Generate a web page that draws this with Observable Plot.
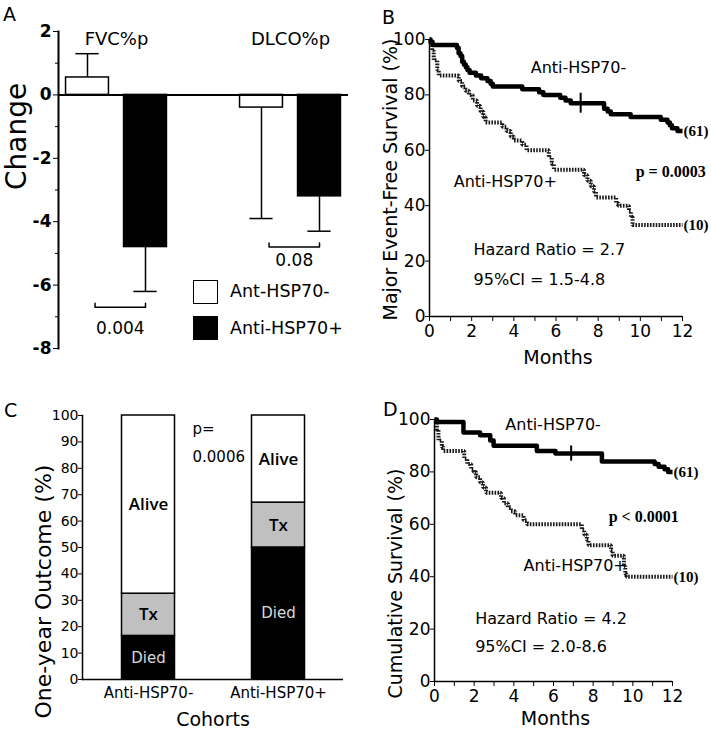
<!DOCTYPE html>
<html><head><meta charset="utf-8">
<script src="https://cdn.jsdelivr.net/npm/d3@7"></script>
<script src="https://cdn.jsdelivr.net/npm/@observablehq/plot@0.6"></script>
<style>
html,body{margin:0;padding:0;background:#fff;}
#fig{position:relative;width:711px;height:730px;overflow:hidden;font-family:"DejaVu Sans",sans-serif;color:#000;}
.panel{position:absolute;}
.letter{position:absolute;font-size:19px;line-height:19px;}
.legA{position:absolute;font-size:17.5px;line-height:17px;white-space:nowrap;}
.box{position:absolute;width:23px;height:22px;border:1.5px solid #000;}
</style></head><body><div id="fig"></div>
<script>
// ---------- Panel A data ----------
const measuresA = ["FVC%p", "DLCO%p"];
const groupsA = ["Ant-HSP70-", "Anti-HSP70+"];
const meanChangeA = [[0.55, -4.8], [-0.4, -3.2]];
const errorEndA = [[1.3, -6.2], [-3.9, -4.3]];
const pValuesA = ["0.004", "0.08"];
const yTicksA = [2, 0, -2, -4, -6, -8];
const yMinorA = [1, -1, -3, -5, -7];

// ---------- Panel B data (Kaplan-Meier, months, %) ----------
const kmB_neg = [[0,100],[0.05,99],[0.15,98],[1.3,97],[1.38,95],[1.47,94],[1.55,92],[1.63,91],[1.72,90],[1.8,89],[1.9,88],[2.2,87],[2.45,86],[2.75,85],[2.9,84],[3.0,83],[4.4,82],[5.2,81],[5.4,80],[6.2,79],[6.45,78],[6.7,77],[8.28,75],[8.45,74],[8.6,73],[9.54,72],[10.97,71],[11.29,70],[11.4,69],[11.5,68],[11.76,67],[12,67]];
const kmB_pos = [[0,100],[0.13,96],[0.2,92.5],[0.37,89],[0.44,87],[1.39,85],[1.55,83],[1.7,81.5],[1.87,80],[2.05,78],[2.26,76],[2.42,74],[2.55,72],[2.66,70],[3.45,68.5],[3.65,67],[3.85,65],[4.0,63.5],[4.4,62],[4.6,60],[5.66,57.5],[5.8,55],[5.9,53],[7.33,51],[7.49,49],[7.65,47],[7.8,45],[7.9,43],[8.85,41],[8.95,40],[9.46,38],[9.55,36],[9.63,33],[12,33]];
const censorB = [7.17, 77];
const atRiskB = ["(61)", "(10)"];
const groupLabelsKM = ["Anti-HSP70-", "Anti-HSP70+"];
const hazardB = ["Hazard Ratio = 2.7", "95%CI = 1.5-4.8"];
const pB = "p = 0.0003";

// ---------- Panel C data ----------
const cohorts = ["Anti-HSP70-", "Anti-HSP70+"];
const outcomes = ["Died", "Tx", "Alive"];
const outcomePct = [[16.5, 16, 67.5], [50, 17, 33]];
const outcomeFill = {Died: "#000", Tx: "#c0c0c0", Alive: "#fff"};
const pC = ["p=", "0.0006"];

// ---------- Panel D data ----------
const kmD_neg = [[0,100],[0.12,99],[1.46,95],[2.3,94],[2.81,92],[2.98,90],[5.16,88],[6.1,87],[8.44,84],[11.1,83],[11.3,82],[11.6,81],[11.78,80],[12,80]];
const kmD_pos = [[0,100],[0.12,96],[0.2,92],[0.37,89.5],[0.44,88],[1.5,85],[1.65,83],[1.85,81],[1.97,80],[2.1,78],[2.3,76],[2.45,74],[2.6,72],[3.35,70],[3.5,68],[3.7,66.5],[3.85,65],[4.07,63.5],[4.49,61.5],[4.66,60],[7.43,58],[7.55,56],[7.68,54],[7.77,52],[8.9,50],[8.98,48],[9.55,44],[9.62,41],[9.68,40],[12,40]];
const censorD = [6.89, 87];
const atRiskD = ["(61)", "(10)"];
const hazardD = ["Hazard Ratio = 4.2", "95%CI = 2.0-8.6"];
const pD = "p < 0.0001";

const monthTicks = [0, 2, 4, 6, 8, 10, 12];
const monthMinor = [1, 3, 5, 7, 9, 11];
const pctTicks = [0, 20, 40, 60, 80, 100];

// ---------- helpers ----------
const fig = document.getElementById("fig");
const FONT = "DejaVu Sans, sans-serif";
const SERIF = "Liberation Serif, serif";
const baseStyle = {fontFamily: FONT, fontSize: "16px", overflow: "visible", background: "transparent", color: "#000"};
function place(node, left, top) {
  const w = document.createElement("div");
  w.className = "panel"; w.style.left = left + "px"; w.style.top = top + "px";
  w.appendChild(node); fig.appendChild(w);
}
function addDiv(cls, text, left, top, extra) {
  const d = document.createElement("div");
  d.className = cls; if (text) d.textContent = text;
  d.style.left = left + "px"; d.style.top = top + "px";
  if (extra) Object.assign(d.style, extra);
  fig.appendChild(d);
}

// ---------- Panel A ----------
const tableA = [];
measuresA.forEach((m, i) => groupsA.forEach((g, j) => tableA.push({
  measure: m, group: g, gi: j, slot: i * 3 + j, value: meanChangeA[i][j], end: errorEndA[i][j]
})));
const bracketA = [];
const pLabA = [];
measuresA.forEach((m, i) => {
  const rows = tableA.filter(d => d.measure === m);
  const yb = Math.min(...rows.map(d => d.end)) - 0.5;
  const xa = rows[0].slot + 0.13, xb = rows[1].slot;
  bracketA.push({m, x: xa, y: yb + 0.13}, {m, x: xa, y: yb}, {m, x: xb, y: yb}, {m, x: xb, y: yb + 0.13});
  pLabA.push({x: (xa + xb) / 2, y: yb, text: pValuesA[i]});
});
const plotA = Plot.plot({
  width: 355, height: 365,
  marginLeft: 58, marginRight: 7, marginTop: 31, marginBottom: 17,
  x: {domain: [-0.5, 4.5], axis: null},
  y: {domain: [-8, 2], axis: null},
  style: baseStyle,
  marks: [
    Plot.rectY(tableA, {x1: d => d.slot - 0.37, x2: d => d.slot + 0.37, y1: 0, y2: "value",
      fill: d => d.gi === 0 ? "#fff" : "#000", stroke: "#000", strokeWidth: 1.5}),
    Plot.ruleX(tableA, {x: "slot", y1: "value", y2: "end", strokeWidth: 1.5}),
    Plot.ruleY(tableA, {y: "end", x1: d => d.slot - 0.2, x2: d => d.slot + 0.2, strokeWidth: 1.5}),
    Plot.ruleY([0], {strokeWidth: 2}),
    Plot.axisY({ticks: yTicksA, tickSize: 5, tickPadding: 2, tickFormat: d => String(d), fontWeight: "bold", fontSize: 17, label: null}),
    Plot.axisY({ticks: yMinorA, tickSize: 3, tickFormat: () => "", label: null}),
    Plot.frame({anchor: "left", strokeWidth: 2}),
    Plot.text(measuresA, {x: (d, i) => i * 3 + 0.5, frameAnchor: "top", lineAnchor: "middle", dy: 8, text: d => d, fontSize: 18}),
    Plot.line(bracketA, {x: "x", y: "y", z: "m", strokeWidth: 1.5}),
    Plot.text([pLabA[0]], {x: "x", y: "y", text: "text", dy: 21, lineAnchor: "middle", fontSize: 17}),
    Plot.text([pLabA[1]], {x: "x", y: "y", text: "text", dy: 13, lineAnchor: "middle", fontSize: 17}),
    Plot.text(["Change"], {frameAnchor: "left", rotate: -90, dx: -41, lineAnchor: "middle", text: d => d, fontSize: 28})
  ]
});
place(plotA, 0, 0);
// legend for A
groupsA.forEach((g, j) => {
  addDiv("box", "", 193, 280 + j * 36, {background: j === 0 ? "#fff" : "#000"});
  addDiv("legA", g, 230, 283 + j * 37);
});

// ---------- KM panels ----------
function kmPanel(o) {
  const ends = [o.neg[o.neg.length - 1], o.pos[o.pos.length - 1]];
  return Plot.plot({
    width: 356, height: 365,
    marginLeft: o.ml, marginRight: o.mr, marginTop: o.mt, marginBottom: o.mb,
    x: {domain: [0, 12]}, y: {domain: [0, 100]},
    style: baseStyle,
    marks: [
      Plot.axisX({ticks: monthTicks, tickSize: 5, tickPadding: 3, fontSize: 17, label: null, tickFormat: d => String(d)}),
      Plot.axisX({ticks: monthMinor, tickSize: 5, tickFormat: () => "", label: null}),
      Plot.axisY({ticks: pctTicks, tickSize: 4, tickPadding: 0, fontSize: 17, label: null, tickFormat: d => String(d)}),
      Plot.ruleX([0], {strokeWidth: 1.5}),
      Plot.ruleY([0], {strokeWidth: 1.5}),
      Plot.line(o.pos, {x: d => d[0], y: d => d[1], curve: "step-after", stroke: "#1a1a1a", strokeWidth: 4, strokeDasharray: "1.6,1.3", strokeLinecap: "butt", strokeLinejoin: "miter"}),
      Plot.line(o.neg, {x: d => d[0], y: d => d[1], curve: "step-after", stroke: "#000", strokeWidth: 4.5, strokeLinecap: "butt"}),
      Plot.ruleX([o.censor], {x: d => d[0], y1: d => d[1] - o.cens, y2: d => d[1] + o.cens, strokeWidth: 2}),
      Plot.text(ends, {x: d => d[0], y: d => d[1], text: (d, i) => o.atRisk[i], textAnchor: "start", dx: 1, fontFamily: SERIF, fontWeight: "bold", fontSize: 15}),
      Plot.text(groupLabelsKM, {x: (d, i) => o.grpX[i], y: (d, i) => o.grpY[i], text: d => d, textAnchor: "start", fontSize: 16}),
      Plot.text(o.hazard, {x: o.hzX, y: (d, i) => o.hzY[i], text: d => d, textAnchor: "start", fontSize: 16}),
      Plot.text([o.p], {x: o.pX, y: o.pY, text: d => d, textAnchor: "start", fontFamily: SERIF, fontWeight: "bold", fontSize: 16}),
      Plot.text([o.ylabel], {frameAnchor: "bottom-left", rotate: -90, textAnchor: "start", lineAnchor: "middle", dx: o.ydx, dy: o.ydy, text: d => d, fontSize: 19}),
      Plot.text(["Months"], {frameAnchor: "bottom", lineAnchor: "middle", dx: 2, dy: o.mdy, text: d => d, fontSize: 19})
    ]
  });
}
place(kmPanel({
  neg: kmB_neg, pos: kmB_pos, censor: censorB, cens: 3.6, atRisk: atRiskB,
  ml: 74, mr: 29, mt: 39, mb: 49,
  grpX: [4.8, 1.15], grpY: [89.6, 48.5],
  hazard: hazardB, hzX: 2.09, hzY: [23.9, 13.3],
  p: pB, pX: 9.78, pY: 52.2,
  ylabel: "Major Event-Free Survival (%)", ydx: -39, ydy: 4, mdy: 41
}), 355, 0);
place(kmPanel({
  neg: kmD_neg, pos: kmD_pos, censor: censorD, cens: 2.9, atRisk: atRiskD,
  ml: 79, mr: 39, mt: 54, mb: 49,
  grpX: [3.57, 4.49], grpY: [97.8, 44.3],
  hazard: hazardD, hzX: 2.05, hzY: [24, 13.1],
  p: pD, pX: 8.78, pY: 62.8,
  ylabel: "Cumulative Survival (%)", ydx: -39, ydy: 17, mdy: 37
}), 355, 365);

// ---------- Panel C ----------
const tableC = [];
cohorts.forEach((c, i) => {
  let acc = 0;
  outcomes.forEach((o, j) => {
    const v = outcomePct[i][j];
    tableC.push({cohort: c, outcome: o, y1: acc, y2: acc + v, mid: acc + v / 2});
    acc += v;
  });
});
const plotC = Plot.plot({
  width: 355, height: 365,
  marginLeft: 82, marginRight: 12, marginTop: 50, marginBottom: 51,
  x: {domain: cohorts, padding: 0},
  y: {domain: [0, 100]},
  style: baseStyle,
  marks: [
    Plot.barY(tableC, {x: "cohort", y1: "y1", y2: "y2", fill: d => outcomeFill[d.outcome], stroke: "#000", strokeWidth: 1.5, insetLeft: 38.5, insetRight: 38.5}),
    Plot.ruleY([0], {strokeWidth: 1.5}),
    Plot.frame({anchor: "left", strokeWidth: 1.5}),
    Plot.axisY({ticks: d3.range(0, 101, 10), tickSize: 4, tickPadding: 0, fontSize: 14, label: null, tickFormat: d => String(d)}),
    Plot.axisX({tickSize: 0, tickPadding: 8, fontSize: 15, label: null}),
    Plot.text(tableC.filter(d => d.outcome !== "Died"), {x: "cohort", y: "mid", text: "outcome", fontSize: 17, fontFamily: "Open Sans, DejaVu Sans, sans-serif", fontWeight: 600}),
    Plot.text(tableC.filter(d => d.outcome === "Died"), {x: "cohort", y: "mid", text: "outcome", fontSize: 15, fill: "#d8d8d8"}),
    Plot.text(pC, {frameAnchor: "left", y: (d, i) => [95, 84.2][i], dx: 110, textAnchor: "start", text: d => d, fontSize: 15}),
    Plot.text(["One-year Outcome (%)"], {frameAnchor: "bottom-left", rotate: -90, textAnchor: "start", lineAnchor: "middle", dx: -39, dy: 39, text: d => d, fontSize: 22}),
    Plot.text(["Cohorts"], {frameAnchor: "bottom", lineAnchor: "middle", dy: 40, text: d => d, fontSize: 19})
  ]
});
place(plotC, 0, 365);

// ---------- panel letters ----------
addDiv("letter", "A", 3, 5);
addDiv("letter", "B", 382, 8);
addDiv("letter", "C", 4, 401);
addDiv("letter", "D", 383, 400);
</script></body></html>
